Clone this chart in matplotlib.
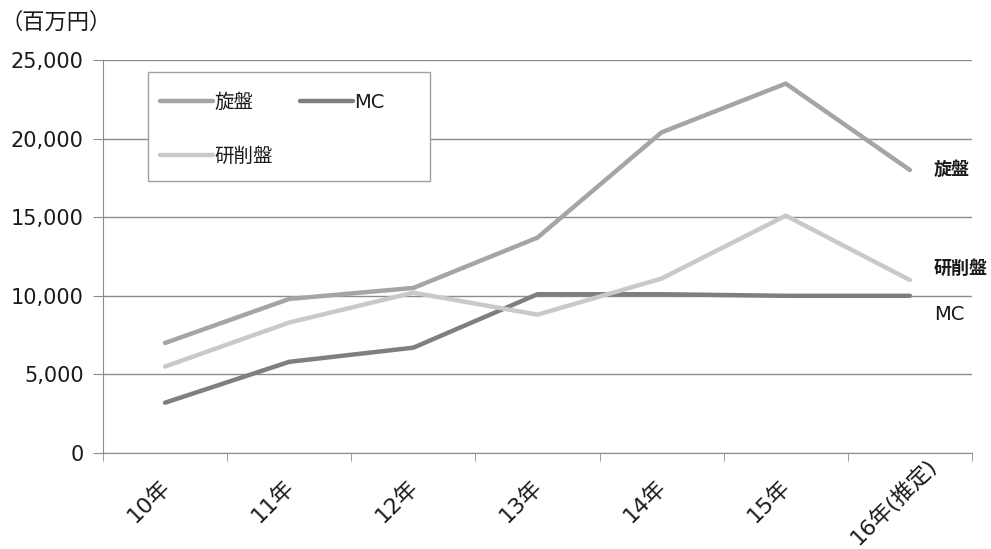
import matplotlib
matplotlib.use("Agg")
import matplotlib.pyplot as plt
from matplotlib.patches import Rectangle
from matplotlib.transforms import ScaledTranslation
import numpy as np

plt.rcParams['font.family'] = ['DejaVu Sans', 'Noto Sans CJK JP']

years = ["10年", "11年", "12年", "13年", "14年", "15年", "16年(推定)"]
lathe = [7000, 9800, 10500, 13700, 20400, 23500, 18000]
mc = [3200, 5800, 6700, 10100, 10100, 10000, 10000]
grinder = [5500, 8300, 10200, 8800, 11100, 15100, 11000]
yticks = [0, 5000, 10000, 15000, 20000, 25000]

c_lathe = "#a5a5a5"
c_mc = "#7f7f7f"
c_grinder = "#c9c9c9"
grid_c = "#8c8c8c"
txt_c = "#1a1a1a"

W, H = 991, 549
fig = plt.figure(figsize=(W / 100, H / 100), dpi=100)
ax_l, ax_r, ax_t, ax_b = 103, 972, 60, 453
ax = fig.add_axes([ax_l / W, (H - ax_b) / H, (ax_r - ax_l) / W, (ax_b - ax_t) / H])
aw, ah = ax_r - ax_l, ax_b - ax_t

x = np.arange(len(years))
lw = 3.2
l1, = ax.plot(x, lathe, color=c_lathe, lw=lw, solid_capstyle='round', label="旋盤", zorder=3)
l2, = ax.plot(x, mc, color=c_mc, lw=lw, solid_capstyle='round', label="MC", zorder=3)
l3, = ax.plot(x, grinder, color=c_grinder, lw=lw, solid_capstyle='round', label="研削盤", zorder=3)

ax.set_xlim(-0.5, len(years) - 0.5)
ax.set_ylim(0, 25000)
ax.set_yticks(yticks)
ax.set_yticklabels([f"{v:,}" for v in yticks], fontsize=15, color=txt_c)
ax.yaxis.grid(True, color=grid_c, lw=1)
ax.set_axisbelow(True)
ax.tick_params(axis='y', length=7, color=grid_c, pad=7)

ax.set_xticks(x)
ax.set_xticks(np.arange(len(years) + 1) - 0.5, minor=True)
ax.tick_params(axis='x', which='major', length=0, pad=35)
ax.tick_params(axis='x', which='minor', length=6, color=grid_c)
ax.set_xticklabels(years, fontsize=16, rotation=45, ha='center', va='center', color=txt_c)
shift = ScaledTranslation(-17 / 100, 0, fig.dpi_scale_trans)
for lab in ax.get_xticklabels():
    lab.set_transform(lab.get_transform() + shift)

for s in ['top', 'right']:
    ax.spines[s].set_visible(False)
ax.spines['left'].set_color(grid_c)
ax.spines['bottom'].set_color(grid_c)

# legend box
ax.add_patch(Rectangle(((148 - ax_l) / aw, (ax_b - 181) / ah), 282 / aw, 109 / ah,
                       transform=ax.transAxes, fill=True, facecolor='white',
                       edgecolor="#a0a0a0", lw=1, zorder=4, clip_on=False))
leg = ax.legend(handles=[l1, l3, l2], ncol=2, loc='upper left',
                bbox_to_anchor=((160 - ax_l) / aw, (ax_b - 93) / ah),
                frameon=False, fontsize=14,
                handlelength=2.7, handletextpad=0.1, columnspacing=1.4,
                labelspacing=1.8, borderpad=0, borderaxespad=0)
leg.set_zorder(5)
for t in leg.get_texts():
    t.set_color(txt_c)

# series names at the line ends
last = len(years) - 1
for vals, name, dy, wt, fs in [(lathe, "旋盤", 0, 'bold', 13), (grinder, "研削盤", 11, 'bold', 13),
                               (mc, "MC", -19, 'normal', 14)]:
    ax.annotate(name, xy=(last, vals[-1]), xytext=(24, dy), textcoords='offset pixels',
                ha='left', va='center', fontsize=fs, fontweight=wt, color=txt_c,
                annotation_clip=False)

fig.text(0 / W, 1 - 22 / H, "（百万円）", fontsize=16, ha='left', va='center', color=txt_c)

fig.savefig("out.png", dpi=100)
